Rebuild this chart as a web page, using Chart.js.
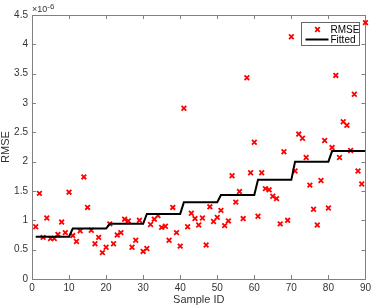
<!DOCTYPE html>
<html>
<head>
<meta charset="utf-8">
<script src="https://cdn.jsdelivr.net/npm/chart.js@4/dist/chart.umd.min.js"></script>
<style>
html, body { margin: 0; padding: 0; background: #fff; }
#caixa { width: 374px; height: 307px; }
</style>
</head>
<body>
<div id="caixa"><canvas id="grafico"></canvas></div>
<script>
// valores em unidades de 1e-6
const amostras = [
    1, 2, 3, 4, 5, 6, 7, 8, 9, 10,
    11, 12, 13, 14, 15, 16, 17, 18, 19, 20,
    21, 22, 23, 24, 25, 26, 27, 28, 29, 30,
    31, 32, 33, 34, 35, 36, 37, 38, 39, 40,
    41, 42, 43, 44, 45, 46, 47, 48, 49, 50,
    51, 52, 53, 54, 55, 56, 57, 58, 59, 60,
    61, 62, 63, 64, 65, 66, 67, 68, 69, 70,
    71, 72, 73, 74, 75, 76, 77, 78, 79, 80,
    81, 82, 83, 84, 85, 86, 87, 88, 89, 90
];
const rmse = [
    0.89, 1.46, 0.71, 1.04, 0.69, 0.69, 0.76, 0.97, 0.79, 1.48,
    0.74, 0.64, 0.82, 1.74, 1.22, 0.83, 0.60, 0.71, 0.45, 0.54,
    0.94, 0.60, 0.75, 0.79, 1.02, 0.99, 0.54, 0.66, 1.00, 0.47,
    0.52, 0.93, 1.02, 1.08, 0.88, 0.90, 0.66, 1.22, 0.79, 0.56,
    2.91, 0.89, 1.12, 1.03, 0.92, 1.04, 0.58, 1.23, 0.98, 1.05,
    1.17, 0.91, 0.99, 1.76, 1.31, 1.49, 1.03, 3.43, 1.81, 2.33,
    1.07, 1.81, 1.54, 1.52, 1.41, 1.37, 0.94, 2.17, 1.00, 4.13,
    1.84, 2.47, 2.40, 2.07, 1.60, 1.19, 0.92, 1.68, 2.36, 1.21,
    2.24, 3.47, 2.07, 2.68, 2.62, 2.19, 3.15, 1.84, 1.62, 4.37
];
const ajustado = [
    0.72, 0.72, 0.72, 0.72, 0.72, 0.72, 0.72, 0.72, 0.72, 0.72,
    0.86, 0.86, 0.86, 0.86, 0.86, 0.86, 0.86, 0.86, 0.86, 0.86,
    0.94, 0.94, 0.94, 0.94, 0.94, 0.94, 0.94, 0.94, 0.94, 0.94,
    1.11, 1.11, 1.11, 1.11, 1.11, 1.11, 1.11, 1.11, 1.11, 1.11,
    1.31, 1.31, 1.31, 1.31, 1.31, 1.31, 1.31, 1.31, 1.31, 1.31,
    1.43, 1.43, 1.43, 1.43, 1.43, 1.43, 1.43, 1.43, 1.43, 1.43,
    1.69, 1.69, 1.69, 1.69, 1.69, 1.69, 1.69, 1.69, 1.69, 1.69,
    2.00, 2.00, 2.00, 2.00, 2.00, 2.00, 2.00, 2.00, 2.00, 2.00,
    2.18, 2.18, 2.18, 2.18, 2.18, 2.18, 2.18, 2.18, 2.18, 2.18
];
const ticksX = [0, 10, 20, 30, 40, 50, 60, 70, 80, 90];
const ticksY = [0, 0.5, 1, 1.5, 2, 2.5, 3, 3.5, 4, 4.5];

const corEixo = '#808080';
const corTexto = '#333333';
const fonte = 'Liberation Sans, Arial, Helvetica, sans-serif';

// moldura com marcas para dentro, nos quatro lados
const moldura = {
    id: 'moldura',
    beforeDatasetsDraw(chart) {
        const { ctx, chartArea: a, scales } = chart;
        ctx.save();
        ctx.strokeStyle = corEixo;
        ctx.lineWidth = 1;
        ctx.beginPath();
        ticksX.forEach(v => {
            const px = Math.round(scales.x.getPixelForValue(v)) + 0.5;
            ctx.moveTo(px, a.bottom); ctx.lineTo(px, a.bottom - 4);
            ctx.moveTo(px, a.top); ctx.lineTo(px, a.top + 4);
        });
        ticksY.forEach(v => {
            const py = Math.round(scales.y.getPixelForValue(v)) + 0.5;
            ctx.moveTo(a.left, py); ctx.lineTo(a.left + 4, py);
            ctx.moveTo(a.right, py); ctx.lineTo(a.right - 4, py);
        });
        ctx.stroke();
        ctx.strokeRect(Math.round(a.left) + 0.5, Math.round(a.top) + 0.5,
            Math.round(a.right - a.left), Math.round(a.bottom - a.top));
        ctx.restore();
    },
    afterDraw(chart) {
        const { ctx, chartArea: a } = chart;
        ctx.save();
        // expoente do eixo y
        ctx.fillStyle = corTexto;
        ctx.textBaseline = 'alphabetic';
        ctx.textAlign = 'left';
        ctx.font = '9px ' + fonte;
        ctx.fillText('\u00d710', a.left, 12);
        const w = ctx.measureText('\u00d710').width;
        ctx.font = '8px ' + fonte;
        ctx.fillText('-6', a.left + w, 9);

        // legenda
        const lx = 301.5, ly = 22.5, lw = 58, lh = 23;
        ctx.fillStyle = '#fff';
        ctx.fillRect(lx, ly, lw, lh);
        ctx.strokeStyle = '#666';
        ctx.lineWidth = 1;
        ctx.strokeRect(lx, ly, lw, lh);

        ctx.strokeStyle = '#ff0000';
        ctx.lineWidth = 1.8;
        const mx = 317.5, my = 29.5, r = 2.3;
        ctx.beginPath();
        ctx.moveTo(mx - r, my - r); ctx.lineTo(mx + r, my + r);
        ctx.moveTo(mx - r, my + r); ctx.lineTo(mx + r, my - r);
        ctx.stroke();

        ctx.strokeStyle = '#000';
        ctx.lineWidth = 2;
        ctx.beginPath();
        ctx.moveTo(305.5, 39.5); ctx.lineTo(328.5, 39.5);
        ctx.stroke();

        ctx.fillStyle = '#000';
        ctx.font = '10px ' + fonte;
        ctx.textBaseline = 'middle';
        ctx.fillText('RMSE', 330.5, 30);
        ctx.fillText('Fitted', 330.5, 40);
        ctx.restore();
    }
};

new Chart(document.getElementById('grafico'), {
    type: 'scatter',
    data: {
        datasets: [
            {
                label: 'Fitted',
                data: amostras.map((x, i) => ({ x: x, y: ajustado[i] })),
                showLine: true,
                borderColor: '#000',
                borderWidth: 2,
                pointRadius: 0,
                tension: 0,
                order: 0
            },
            {
                label: 'RMSE',
                data: amostras.map((x, i) => ({ x: x, y: rmse[i] })),
                pointStyle: 'crossRot',
                pointRadius: 3.3,
                pointBorderWidth: 1.8,
                borderColor: '#ff0000',
                backgroundColor: '#ff0000',
                clip: false,
                order: 1
            }
        ]
    },
    options: {
        responsive: true,
        maintainAspectRatio: false,
        animation: false,
        layout: { padding: { top: 15, right: 6, left: 0, bottom: 0 } },
        plugins: {
            legend: { display: false },
            tooltip: { enabled: false }
        },
        scales: {
            x: {
                type: 'linear',
                min: 0,
                max: 90,
                afterFit: s => { s.height = 28; },
                afterBuildTicks: s => { s.ticks = ticksX.map(v => ({ value: v })); },
                grid: { display: false, drawTicks: false },
                border: { display: false },
                ticks: { color: corTexto, padding: 3, font: { family: fonte, size: 10 }, maxRotation: 0 },
                title: {
                    display: true,
                    text: 'Sample ID',
                    color: corTexto,
                    font: { family: fonte, size: 11, lineHeight: 1 },
                    padding: { top: 0, bottom: 1.5 }
                }
            },
            y: {
                type: 'linear',
                min: 0,
                max: 4.5,
                afterFit: s => { s.width = 32; },
                afterBuildTicks: s => { s.ticks = ticksY.map(v => ({ value: v })); },
                grid: { display: false, drawTicks: false },
                border: { display: false },
                ticks: { color: corTexto, padding: 4, font: { family: fonte, size: 10 }, callback: v => String(v) },
                title: {
                    display: true,
                    text: 'RMSE',
                    color: corTexto,
                    font: { family: fonte, size: 11, lineHeight: 1 },
                    padding: { top: 0, bottom: 0 }
                }
            }
        }
    },
    plugins: [moldura]
});
</script>
</body>
</html>
